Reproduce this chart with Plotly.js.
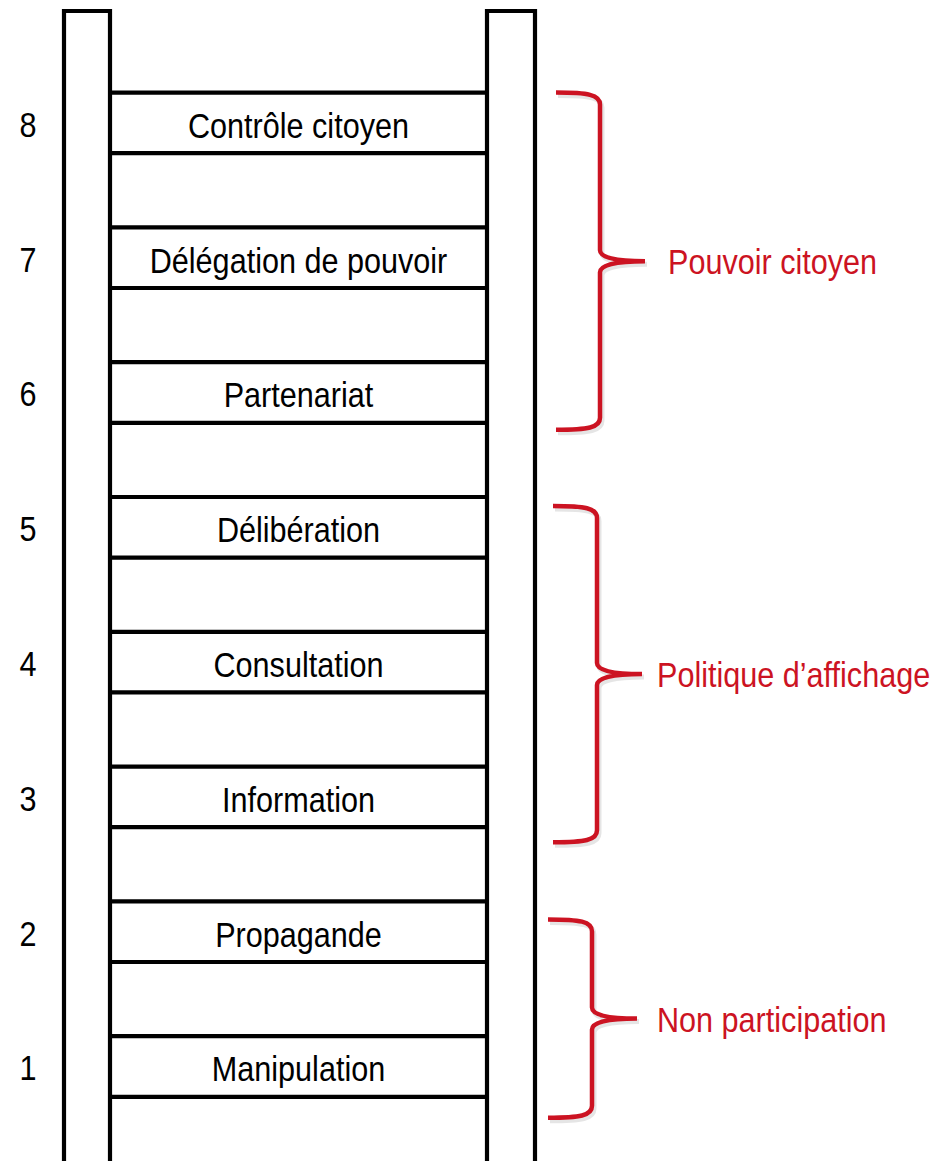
<!DOCTYPE html>
<html>
<head>
<meta charset="utf-8">
<script src="https://cdn.plot.ly/plotly-3.0.1.min.js"></script>
<style>html,body{margin:0;padding:0;background:#fff;}#chart{width:941px;height:1161px;}</style>
</head>
<body>
<div id="chart"></div>
<script>
// ---- data ----
const levels = [1, 2, 3, 4, 5, 6, 7, 8];
const rungLabels = ["Manipulation", "Propagande", "Information", "Consultation",
                    "Délibération", "Partenariat", "Délégation de pouvoir", "Contrôle citoyen"];
const levelNumbers = ["1", "2", "3", "4", "5", "6", "7", "8"];
const groupNames = ["Non participation", "Politique d\u2019affichage", "Pouvoir citoyen"];
const groupLow = [1, 3, 6];
const groupHigh = [2, 5, 8];

// ---- geometry / style ----
const W = 941, H = 1161;
const PX = 134.8;              // pixels per level
const Y0 = 1066.5;             // pixel row of level 1
const yTopRange = 1 + Y0 / PX;
const yBotRange = 1 - (H - Y0) / PX;
const d = px => px / PX;       // pixel distance -> level units
const FONT = '"Liberation Sans", Arial, sans-serif';
const FS = 36, SX = 0.85;      // font size, horizontal condensation
const RED = '#cc1322';

const railTop = 1 + (Y0 - 11) / PX;
const railBottom = yBotRange - 1;
const L1 = 64, L2 = 110, R1 = 487, R2 = 535;
const halfRung = d(30.3);

// brace placement tweaks (pixels), per group
const braceTopOff = [18, 9, 0];
const braceBotOff = [21, 15, 7];
const braceDx = [-5, 0, 3];
const labelX = [657, 657, 668];

const traces = [];
// rails
[[L1, L2], [R1, R2]].forEach(([a, b]) => {
  traces.push({
    type: 'scatter', mode: 'lines', hoverinfo: 'skip',
    x: [a, a, b, b], y: [railBottom, railTop, railTop, railBottom],
    line: {color: '#000', width: 4.2}
  });
});
// rungs
const rx = [], ry = [];
levels.forEach(l => {
  [l + halfRung, l - halfRung].forEach(yy => {
    rx.push(L2, R1, null); ry.push(yy, yy, null);
  });
});
traces.push({type: 'scatter', mode: 'lines', hoverinfo: 'skip', x: rx, y: ry,
  line: {color: '#000', width: 4.2}});
// rung labels
traces.push({type: 'scatter', mode: 'text', hoverinfo: 'skip',
  x: levels.map(() => 298.5), y: levels.map(l => l - d(6)), text: rungLabels,
  textposition: 'middle center', textfont: {family: FONT, size: FS, color: '#000'}});
// level numbers
traces.push({type: 'scatter', mode: 'text', hoverinfo: 'skip',
  x: levels.map(() => 28), y: levels.map(l => l - d(5)), text: levelNumbers,
  textposition: 'middle center', textfont: {family: FONT, size: FS, color: '#000'}});

// braces
const TIP = 553, VX = 597, PT = 642;
const braceTop = groupHigh.map((hi, i) => hi + halfRung - d(braceTopOff[i]));
const braceBot = groupLow.map((lo, i) => lo - halfRung - d(braceBotOff[i]));
const groupMid = braceTop.map((t, i) => (t + braceBot[i]) / 2);

// group labels
traces.push({type: 'scatter', mode: 'text', hoverinfo: 'skip',
  x: labelX, y: groupMid.map(m => m - d(4)), text: groupNames,
  textposition: 'middle right', textfont: {family: FONT, size: FS, color: RED}});

function bracePath(top, bot, dx, ox, oy) {
  const mid = (top + bot) / 2;
  const X = v => (v + dx + ox).toFixed(2);
  const Y = v => (v - d(oy)).toFixed(5);
  return 'M' + X(TIP) + ',' + Y(top) +
    ' C' + X(TIP + 32) + ',' + Y(top) + ' ' + X(VX) + ',' + Y(top - d(2)) + ' ' + X(VX) + ',' + Y(top - d(12)) +
    ' L' + X(VX) + ',' + Y(mid + d(11)) +
    ' Q' + X(VX) + ',' + Y(mid) + ' ' + X(PT) + ',' + Y(mid) +
    ' Q' + X(VX) + ',' + Y(mid) + ' ' + X(VX) + ',' + Y(mid - d(11)) +
    ' L' + X(VX) + ',' + Y(bot + d(12)) +
    ' C' + X(VX) + ',' + Y(bot + d(2)) + ' ' + X(TIP + 32) + ',' + Y(bot) + ' ' + X(TIP) + ',' + Y(bot);
}
const shapes = [];
groupLow.forEach((lo, i) => {
  shapes.push({type: 'path', xref: 'x', yref: 'y', path: bracePath(braceTop[i], braceBot[i], braceDx[i], 2, 3),
    line: {color: 'rgba(0,0,0,0.10)', width: 5}, layer: 'below'});
  shapes.push({type: 'path', xref: 'x', yref: 'y', path: bracePath(braceTop[i], braceBot[i], braceDx[i], 0, 0),
    line: {color: RED, width: 4.5}});
});

const layout = {
  width: W, height: H,
  margin: {l: 0, r: 0, t: 0, b: 0, pad: 0},
  paper_bgcolor: '#fff', plot_bgcolor: '#fff',
  showlegend: false,
  xaxis: {range: [0, W], visible: false, fixedrange: true},
  yaxis: {range: [yBotRange, yTopRange], visible: false, fixedrange: true},
  shapes: shapes
};
Plotly.newPlot('chart', traces, layout, {staticPlot: true, displayModeBar: false}).then(gd => {
  // condense the text horizontally (the reference uses a narrow sans face)
  gd.querySelectorAll('.textpoint text').forEach(t => {
    const x = parseFloat(t.getAttribute('x')) || 0;
    const prev = t.getAttribute('transform') || '';
    t.setAttribute('transform', prev + ' translate(' + x + ',0) scale(' + SX + ',1) translate(' + (-x) + ',0)');
  });
});
</script>
</body>
</html>
